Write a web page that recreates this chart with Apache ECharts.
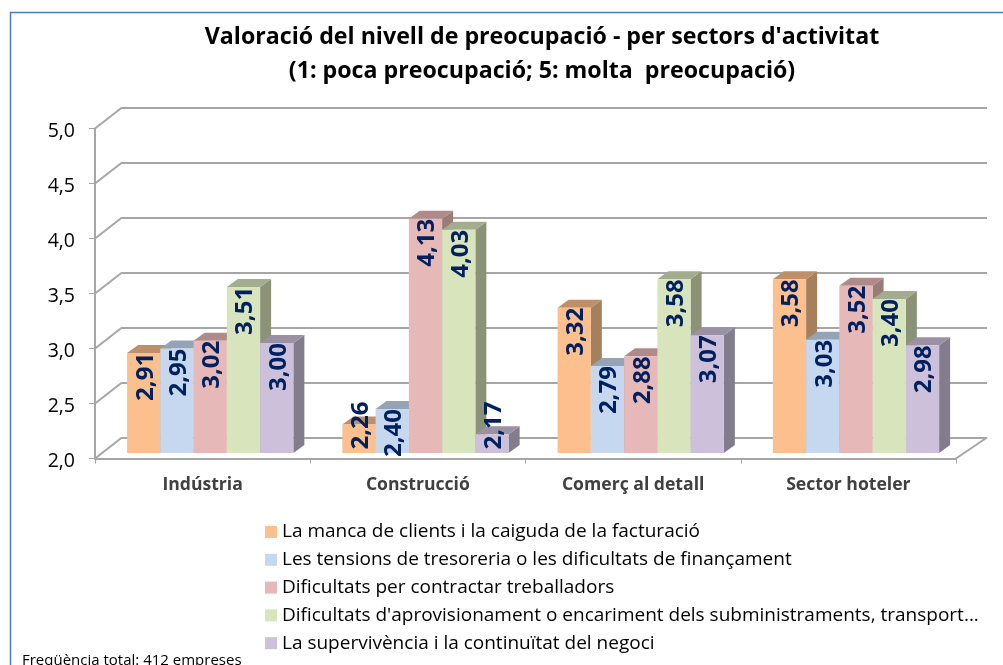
<!DOCTYPE html>
<html>
<head>
<meta charset="utf-8">
<style>
  html, body { margin: 0; padding: 0; background: #fff; }
  #chart { width: 1003px; height: 665px; }
</style>
</head>
<body>
<div id="chart"></div>
<script src="https://cdn.jsdelivr.net/npm/echarts@6/dist/echarts.min.js"></script>
<script>
const categories = ['Indústria', 'Construcció', 'Comerç al detall', 'Sector hoteler']
const yTicks = [2, 2.5, 3, 3.5, 4, 4.5, 5]
const seriesNames = [
  'La manca de clients i la caiguda de la facturació',
  'Les tensions de tresoreria o les dificultats de finançament',
  'Dificultats per contractar treballadors',
  "Dificultats d'aprovisionament o encariment dels subministraments, transport...",
  'La supervivència i la continuïtat del negoci'
]
const clients = [2.91, 2.26, 3.32, 3.58]
const tresoreria = [2.95, 2.40, 2.79, 3.03]
const treballadors = [3.02, 4.13, 2.88, 3.52]
const aprovisionament = [3.51, 4.03, 3.58, 3.40]
const supervivencia = [3.00, 2.17, 3.07, 2.98]
const seriesValues = [clients, tresoreria, treballadors, aprovisionament, supervivencia]

const frontColors = ['#FBC08D', '#C5D8F0', '#E6B8B7', '#D8E4BC', '#CCC0DA']
const topColors = ['#BD9069', '#94A3B5', '#AE8B8A', '#A3AC8E', '#9A91A5']
const sideColors = ['#A5805C', '#87919F', '#9B7B7A', '#8B9278', '#837C8D']

const fontFamily = '"Open Sans", "Noto Sans", sans-serif'
const wallDepth = [27, -21]
const barShift = [7.6, -5.5]
const barDepth = [11, -8]
const barRatio = 0.1545

function poly(points, fill) {
  return { type: 'polygon', shape: { points }, style: { fill } }
}

// barra 3D: cara frontal, lateral i superior, i l'etiqueta girada
function renderBar(seriesIndex) {
  return function(params, api) {
    const cat = api.value(0)
    const value = api.value(1)
    const band = api.size([1, 0])[0]
    const w = band * barRatio
    const base = api.coord([cat, 2])
    const top = api.coord([cat, value])
    const x0 = base[0] + barShift[0] + (seriesIndex - 2.5) * w
    const x1 = x0 + w
    const yBase = base[1] + barShift[1]
    const yTop = top[1] + barShift[1]
    const [dx, dy] = barDepth
    // les dues etiquetes de barres molt baixes queden per sobre de la barra
    const labelY = value < 2.3 ? api.coord([cat, 2.3])[1] : yTop + 24
    return {
      type: 'group',
      children: [
        poly([[x1, yBase], [x1 + dx, yBase + dy], [x1 + dx, yTop + dy], [x1, yTop]], sideColors[seriesIndex]),
        poly([[x0, yTop], [x0 + dx, yTop + dy], [x1 + dx, yTop + dy], [x1, yTop]], topColors[seriesIndex]),
        { type: 'rect', shape: { x: x0, y: yTop, width: w, height: yBase - yTop }, style: { fill: frontColors[seriesIndex] } },
        {
          type: 'text',
          x: x0 + w / 2 + 2,
          y: labelY,
          rotation: Math.PI / 2,
          style: {
            text: value.toFixed(2).replace('.', ','),
            fill: '#002060',
            fontFamily,
            fontSize: 24,
            fontWeight: 'bold',
            align: 'center',
            verticalAlign: 'middle'
          }
        }
      ]
    }
  }
}

// diagonals de la paret esquerra
function renderDiagonal(params, api) {
  const y = api.coord([0, api.value(0)])[1]
  const x = params.coordSys.x
  return {
    type: 'line',
    shape: { x1: x, y1: y, x2: x + wallDepth[0], y2: y + wallDepth[1] },
    style: { stroke: '#A6A6A6', lineWidth: 2 }
  }
}

function renderFloorEnd(params, api) {
  const y = api.coord([0, 2])[1]
  const x = params.coordSys.x + params.coordSys.width
  return {
    type: 'line',
    shape: { x1: x, y1: y, x2: x + wallDepth[0] + 4, y2: y + wallDepth[1] },
    style: { stroke: '#A6A6A6', lineWidth: 2 }
  }
}

const option = {
  animation: false,
  backgroundColor: '#fff',
  title: {
    text: "Valoració del nivell de preocupació - per sectors d'activitat\n(1: poca preocupació; 5: molta  preocupació)",
    left: 537,
    top: 15,
    textAlign: 'center',
    textStyle: { fontFamily, fontSize: 23.2, fontWeight: 'bold', color: '#000', lineHeight: 34 }
  },
  graphic: [
    {
      type: 'rect',
      shape: { x: 10.5, y: 12.5, width: 1100, height: 800 },
      style: { fill: 'none', stroke: '#4A7EBB', lineWidth: 1.5 },
      z: -1
    },
    {
      type: 'text',
      x: 22,
      y: 653,
      style: { text: 'Freqüència total: 412 empreses', fill: '#000', fontFamily, fontSize: 15 }
    }
  ],
  legend: {
    orient: 'vertical',
    left: 260,
    top: 516,
    itemWidth: 12,
    itemHeight: 12,
    itemGap: 5.8,
    icon: 'rect',
    data: seriesNames,
    selectedMode: false,
    textStyle: { fontFamily, fontSize: 19, color: '#000', height: 22, lineHeight: 22 }
  },
  grid: [
    { left: 95, top: 128.5, width: 861, height: 330 },
    { left: 122, top: 107.5, width: 865, height: 330 }
  ],
  xAxis: [
    {
      type: 'category',
      gridIndex: 0,
      data: categories,
      axisLine: { lineStyle: { color: '#A6A6A6', width: 2 } },
      axisTick: { show: true, length: 5, lineStyle: { color: '#A6A6A6' } },
      axisLabel: { fontFamily, fontSize: 17.6, fontWeight: 'bold', color: '#404040', margin: 17 }
    },
    { type: 'value', gridIndex: 1, show: false, min: 0, max: 1 }
  ],
  yAxis: [
    {
      type: 'value',
      gridIndex: 0,
      min: 2,
      max: 5,
      interval: 0.5,
      axisLine: { show: true, lineStyle: { color: '#A6A6A6', width: 2 } },
      axisTick: { show: true, length: 6, lineStyle: { color: '#A6A6A6' } },
      splitLine: { show: false },
      axisLabel: {
        margin: 20,
        formatter: v => '{n|' + v.toFixed(1).replace('.', ',') + '}',
        rich: { n: { fontFamily, fontSize: 19.5, color: '#000', padding: [5, 0, 0, 0] } }
      }
    },
    {
      type: 'value',
      gridIndex: 1,
      min: 2,
      max: 5,
      interval: 0.5,
      axisLine: { show: false },
      axisTick: { show: false },
      axisLabel: { show: false },
      splitLine: { show: true, lineStyle: { color: '#A6A6A6', width: 2 } }
    }
  ],
  series: [
    {
      type: 'custom',
      xAxisIndex: 0,
      yAxisIndex: 0,
      silent: true,
      clip: false,
      data: yTicks.map(v => [v]),
      encode: { y: 0 },
      renderItem: renderDiagonal,
      z: 1
    },
    {
      type: 'custom',
      xAxisIndex: 0,
      yAxisIndex: 0,
      silent: true,
      clip: false,
      data: [[2]],
      encode: { y: 0 },
      renderItem: renderFloorEnd,
      z: 1
    }
  ].concat(seriesValues.map((values, i) => ({
    name: seriesNames[i],
    type: 'custom',
    xAxisIndex: 0,
    yAxisIndex: 0,
    clip: false,
    itemStyle: { color: frontColors[i] },
    data: values.map((v, c) => [c, v]),
    encode: { x: 0, y: 1 },
    renderItem: renderBar(i),
    z: 5
  })))
}

const myChart = echarts.init(document.getElementById('chart'))
myChart.setOption(option)
</script>
</body>
</html>
